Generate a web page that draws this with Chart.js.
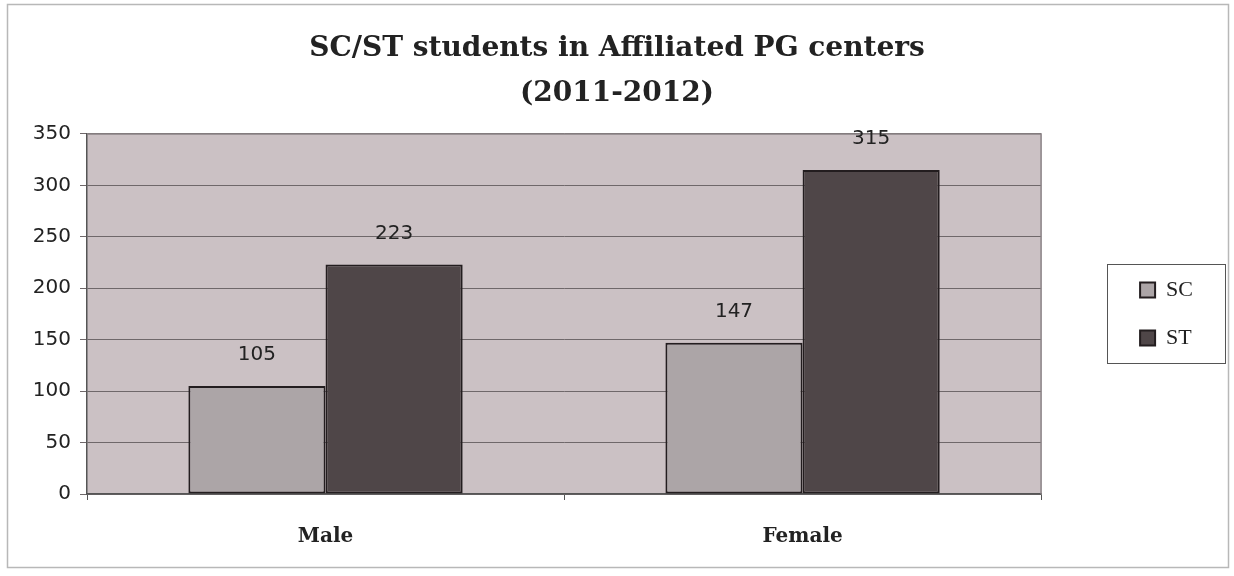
<!DOCTYPE html>
<html>
<head>
<meta charset="utf-8">
<script src="https://cdn.jsdelivr.net/npm/chart.js@4/dist/chart.umd.min.js"></script>
<style>
  html, body { margin: 0; padding: 0; background: #ffffff; }
  #wrap { width: 1234px; height: 576px; position: relative; }
</style>
</head>
<body>
<div id="wrap"><canvas id="c" width="1234" height="576"></canvas></div>
<script>
const titleLines = ['SC/ST students in Affiliated PG centers', '(2011-2012)'];
const categories = ['Male', 'Female'];
const seriesNames = ['SC', 'ST'];
const scValues = [105, 147];
const stValues = [223, 315];
const yMin = 0;
const yMax = 350;
const yStep = 50;

const plotBgPlugin = {
  id: 'plotBg',
  beforeDraw(chart) {
    const { ctx, chartArea: a } = chart;
    ctx.save();
    ctx.fillStyle = '#ffffff';
    ctx.fillRect(0, 0, chart.width, chart.height);
    ctx.strokeStyle = '#b8b8b8';
    ctx.lineWidth = 1.5;
    ctx.strokeRect(7.5, 4.5, 1221, 563);
    ctx.fillStyle = '#cbc1c4';
    ctx.fillRect(a.left, a.top, a.right - a.left, a.bottom - a.top);
    ctx.restore();
  },
  afterDatasetsDraw(chart) {
    const { ctx, chartArea: a } = chart;
    ctx.save();
    ctx.strokeStyle = '#8a8285';
    ctx.lineWidth = 1.5;
    ctx.beginPath();
    ctx.moveTo(a.left, a.top);
    ctx.lineTo(a.right, a.top);
    ctx.lineTo(a.right, a.bottom);
    ctx.stroke();
    ctx.fillStyle = '#222222';
    ctx.font = '20px "DejaVu Sans"';
    ctx.textAlign = 'center';
    ctx.textBaseline = 'middle';
    chart.data.datasets.forEach((ds, i) => {
      const meta = chart.getDatasetMeta(i);
      meta.data.forEach((bar, j) => {
        ctx.fillText(String(ds.data[j]), bar.x, bar.y - 31);
      });
    });
    ctx.restore();
  },
  afterDraw(chart) {
    const lg = chart.legend;
    if (!lg || !lg.legendHitBoxes || !lg.legendHitBoxes.length) return;
    const hb = lg.legendHitBoxes;
    const ctx = chart.ctx;
    const top = hb[0].top - 15;
    const bottom = hb[hb.length - 1].top + hb[hb.length - 1].height + 14;
    const left = hb[0].left - 33;
    const right = left + 118;
    ctx.save();
    ctx.strokeStyle = '#555555';
    ctx.lineWidth = 1;
    ctx.strokeRect(Math.round(left) + 0.5, Math.round(top) + 0.5, Math.round(right - left), Math.round(bottom - top));
    ctx.restore();
  }
};

new Chart(document.getElementById('c'), {
  type: 'bar',
  data: {
    labels: categories,
    datasets: [
      {
        label: seriesNames[0],
        data: scValues,
        backgroundColor: '#aca5a7',
        borderColor: '#231d1f',
        borderWidth: 2,
        borderSkipped: false,
        categoryPercentage: 0.575,
        barPercentage: 1.0
      },
      {
        label: seriesNames[1],
        data: stValues,
        backgroundColor: '#4f4648',
        borderColor: '#231d1f',
        borderWidth: 2,
        borderSkipped: false,
        categoryPercentage: 0.575,
        barPercentage: 1.0
      }
    ]
  },
  options: {
    responsive: false,
    animation: false,
    devicePixelRatio: 1,
    layout: { padding: { left: 31, right: 31, top: 0, bottom: 0 } },
    plugins: {
      title: {
        display: true,
        text: titleLines,
        color: '#222222',
        font: { family: '"DejaVu Serif"', weight: 'bold', size: 28, lineHeight: 1.607 },
        padding: { top: 26, bottom: 18 }
      },
      legend: {
        display: true,
        position: 'right',
        fullSize: false,
        labels: {
          color: '#222222',
          font: { family: '"Liberation Serif"', size: 22 },
          boxWidth: 15,
          boxHeight: 15,
          padding: 26,
          useBorderRadius: false
        }
      },
      tooltip: { enabled: false }
    },
    scales: {
      x: {
        offset: true,
        grid: {
          display: true,
          offset: true,
          drawOnChartArea: false,
          drawTicks: true,
          tickLength: 6,
          color: '#555555'
        },
        border: { display: true, color: '#555555', width: 1.5 },
        ticks: {
          color: '#222222',
          font: { family: '"DejaVu Serif"', weight: 'bold', size: 20 },
          padding: 25
        },
        afterFit(scale) { scale.height = 82; }
      },
      y: {
        min: yMin,
        max: yMax,
        ticks: {
          stepSize: yStep,
          color: '#222222',
          font: { family: '"DejaVu Sans"', size: 20 },
          padding: 9
        },
        grid: {
          color: '#6f686a',
          lineWidth: 1,
          drawTicks: true,
          tickLength: 7
        },
        border: { display: true, color: '#555555', width: 1.5 },
        afterFit(scale) { scale.width = 56; }
      },
      gap: {
        type: 'linear',
        position: 'right',
        display: true,
        grid: { display: false, drawTicks: false },
        border: { display: false },
        ticks: { display: false },
        afterFit(scale) { scale.width = 73; }
      }
    }
  },
  plugins: [plotBgPlugin]
});
</script>
</body>
</html>
